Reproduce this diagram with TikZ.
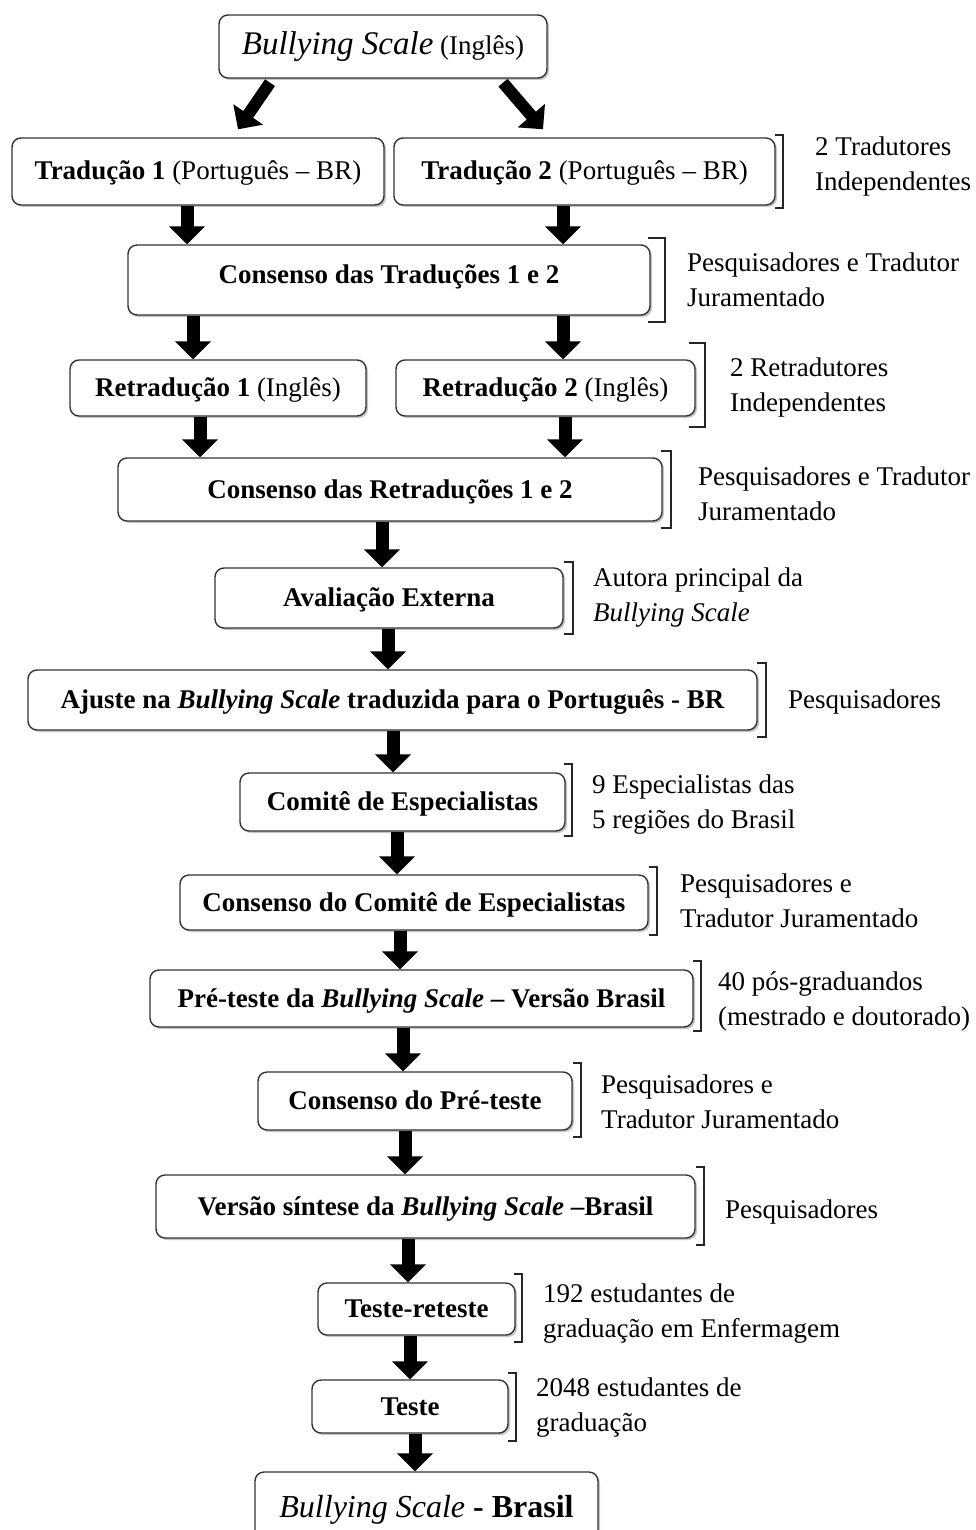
\documentclass[tikz,border=0pt]{standalone}
\usepackage{fontspec}
\setmainfont{Liberation Serif}
\usetikzlibrary{arrows.meta,shadows}

\begin{document}
\begin{tikzpicture}[x=1pt,y=-1pt,
  stepbox/.style={draw=black!80, line width=1.4pt, rounded corners=9pt, fill=white,
    inner sep=0pt, align=center, text height=21pt, text depth=4pt,
    font=\fontsize{27}{33}\selectfont\bfseries,
    drop shadow={shadow xshift=2pt, shadow yshift=-2pt, fill=black!45}},
  flow/.style={line width=13pt, -{Triangle[width=35pt,length=18pt]}},
  note/.style={anchor=west, align=left, inner sep=0pt, font=\fontsize{27}{35}\selectfont},
  brk/.style={line width=2.4pt, draw=black!85}
]
\useasboundingbox (0,0) rectangle (976,1530);
\clip (0,0) rectangle (976,1530);

% process steps
\node[stepbox, minimum width=328pt, minimum height=63pt] (src) at (383,46.5)
  {{\fontsize{33}{36}\selectfont\mdseries\itshape Bullying Scale} {\mdseries(Inglês)}};
\node[stepbox, minimum width=372pt, minimum height=67pt] (t1) at (198,171.5)
  {Tradução 1 {\mdseries(Português – BR)}};
\node[stepbox, minimum width=381pt, minimum height=67pt] (t2) at (584.5,171.5)
  {Tradução 2 {\mdseries(Português – BR)}};
\node[stepbox, minimum width=522pt, minimum height=70pt, text depth=15pt] (ct) at (389,280)
  {Consenso das Traduções 1 e 2};
\node[stepbox, minimum width=296pt, minimum height=56pt] (r1) at (218,388)
  {Retradução 1 {\mdseries(Inglês)}};
\node[stepbox, minimum width=299pt, minimum height=56pt] (r2) at (545.5,388)
  {Retradução 2 {\mdseries(Inglês)}};
\node[stepbox, minimum width=544pt, minimum height=63pt] (cr) at (390,489.5)
  {Consenso das Retraduções 1 e 2};
\node[stepbox, minimum width=348pt, minimum height=60pt] (av) at (389,598)
  {Avaliação Externa};
\node[stepbox, minimum width=729pt, minimum height=60pt] (aj) at (392.5,700)
  {Ajuste na \textit{Bullying Scale} traduzida para o Português - BR};
\node[stepbox, minimum width=325pt, minimum height=58pt] (ce) at (402.5,802)
  {Comitê de Especialistas};
\node[stepbox, minimum width=468pt, minimum height=55pt] (cc) at (414,902.5)
  {Consenso do Comitê de Especialistas};
\node[stepbox, minimum width=543pt, minimum height=57pt] (pt) at (421.5,998.5)
  {Pré-teste da \textit{Bullying Scale} – Versão Brasil};
\node[stepbox, minimum width=314pt, minimum height=58pt] (cp) at (415,1101)
  {Consenso do Pré-teste};
\node[stepbox, minimum width=539pt, minimum height=63pt] (vs) at (425.5,1206.5)
  {Versão síntese da \textit{Bullying Scale} –Brasil};
\node[stepbox, minimum width=197pt, minimum height=52pt] (tr) at (416.5,1309)
  {Teste-reteste};
\node[stepbox, minimum width=196pt, minimum height=53pt] (te) at (410,1406.5)
  {Teste};
\node[stepbox, minimum width=343pt, minimum height=73pt] (bb) at (426.5,1508.5)
  {\fontsize{32}{36}\selectfont{\mdseries\itshape Bullying Scale} - Brasil};

% connectors
\draw[flow, line width=12pt] ([xshift=-113pt,yshift=-4pt]src.south) -- ([xshift=40pt,yshift=8pt]t1.north);
\draw[flow, line width=12pt] ([xshift=120pt,yshift=-4pt]src.south) -- ([xshift=-41.5pt,yshift=8pt]t2.north);
\draw[flow] ([xshift=-11pt]t1.south) -- ([xshift=-11pt]t1.south |- ct.north);
\draw[flow] ([xshift=-21.5pt]t2.south) -- ([xshift=-21.5pt]t2.south |- ct.north);
\draw[flow] ([xshift=-25pt]r1.north |- ct.south) -- ([xshift=-25pt]r1.north);
\draw[flow] ([xshift=17.5pt]r2.north |- ct.south) -- ([xshift=17.5pt]r2.north);
\draw[flow] ([xshift=-18pt]r1.south) -- ([xshift=-18pt]r1.south |- cr.north);
\draw[flow] ([xshift=19.5pt]r2.south) -- ([xshift=19.5pt]r2.south |- cr.north);
\draw[flow] ([xshift=-7pt]av.north |- cr.south) -- ([xshift=-7pt]av.north);
\draw[flow] ([xshift=-1pt]av.south) -- ([xshift=-1pt]av.south |- aj.north);
\draw[flow] ([xshift=-9.5pt]ce.north |- aj.south) -- ([xshift=-9.5pt]ce.north);
\draw[flow] ([xshift=-5.5pt]ce.south) -- ([xshift=-5.5pt]ce.south |- cc.north);
\draw[flow] ([xshift=-14pt]cc.south) -- ([xshift=-14pt]cc.south |- pt.north);
\draw[flow] ([xshift=-12pt]cp.north |- pt.south) -- ([xshift=-12pt]cp.north);
\draw[flow] ([xshift=-10pt]cp.south) -- ([xshift=-10pt]cp.south |- vs.north);
\draw[flow] ([xshift=-8.5pt]tr.north |- vs.south) -- ([xshift=-8.5pt]tr.north);
\draw[flow] (te.north |- tr.south) -- (te.north);
\draw[flow] ([xshift=5pt]te.south) -- ([xshift=5pt]te.south |- bb.north);

% brackets grouping each step with who carried it out
\draw[brk] (775,135) -- (783,135) -- (783,208) -- (775,208);
\draw[brk] (648,238) -- (665,238) -- (665,322) -- (648,322);
\draw[brk] (689,343) -- (705,343) -- (705,427) -- (689,427);
\draw[brk] (661,451) -- (671,451) -- (671,528) -- (661,528);
\draw[brk] (564,562) -- (573,562) -- (573,634) -- (564,634);
\draw[brk] (757,663) -- (766,663) -- (766,737) -- (757,737);
\draw[brk] (564,764) -- (572,764) -- (572,836) -- (564,836);
\draw[brk] (649,867) -- (657,867) -- (657,935) -- (649,935);
\draw[brk] (693,961) -- (701,961) -- (701,1031) -- (693,1031);
\draw[brk] (573,1063) -- (581,1063) -- (581,1137) -- (573,1137);
\draw[brk] (696,1167) -- (704,1167) -- (704,1245) -- (696,1245);
\draw[brk] (514,1274) -- (522,1274) -- (522,1342) -- (514,1342);
\draw[brk] (508,1373) -- (516,1373) -- (516,1441) -- (508,1441);

% participants
\node[note] (n1) at (815,167) {2 Tradutores\\Independentes};
\node[note] (n2) at (687,280) {Pesquisadores e Tradutor\\Juramentado};
\node[note] (n3) at (730,388) {2 Retradutores\\Independentes};
\node[note] (n4) at (698,494) {Pesquisadores e Tradutor\\Juramentado};
\node[note] (n5) at (593,598) {Autora principal da\\\textit{Bullying Scale}};
\node[note] (n6) at (788,702) {Pesquisadores};
\node[note] (n7) at (592,805) {9 Especialistas das\\5 regiões do Brasil};
\node[note] (n8) at (680,901) {Pesquisadores e\\Tradutor Juramentado};
\node[note] (n9) at (718,1001) {40 pós-graduandos\\(mestrado e doutorado)};
\node[note] (n10) at (601,1102) {Pesquisadores e\\Tradutor Juramentado};
\node[note] (n11) at (725,1212) {Pesquisadores};
\node[note] (n12) at (543,1314) {192 estudantes de\\graduação em Enfermagem};
\node[note] (n13) at (536,1408) {2048 estudantes de\\graduação};
\end{tikzpicture}
\end{document}
